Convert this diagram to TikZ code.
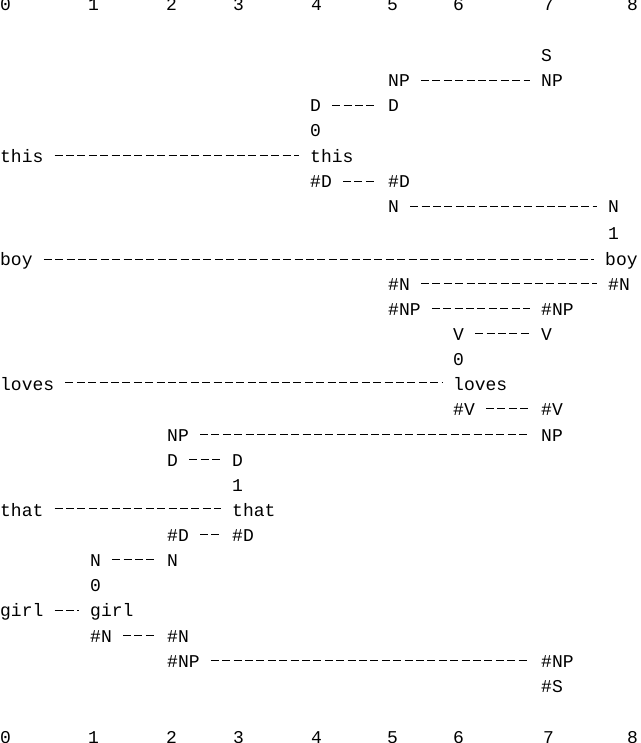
\documentclass[tikz,border=0pt]{standalone}
\usepackage{fontspec}
\setmonofont{Liberation Mono}
\begin{document}
\begin{tikzpicture}[x=1pt,y=-1pt,
  tok/.style={anchor=base west,inner sep=0pt,font=\ttfamily\fontsize{18pt}{20pt}\selectfont},
  dl/.style={draw,line width=0.8pt,dash pattern=on 8pt off 3.4pt,shorten <=11pt,shorten >=11pt}]
\useasboundingbox (0,0) rectangle (640,743);
\newcommand\T[4]{\node[tok] (#1) at (#2,#3+6) {#4};}
\newcommand\C[2]{\path[dl] ([yshift=1pt]#1.east) -- ([yshift=1pt]#2.west|-#1.east);}
% digit rows
\foreach \d/\x in {0/0,1/88,2/166,3/233,4/311,5/387,6/453,7/543,8/627}{
  \node[tok] (t\d) at (\x,11) {\d};
  \node[tok] (b\d) at (\x,743) {\d};}
\T{s}{541}{56}{S}
\T{np1}{388}{81}{NP}\T{np1b}{541}{81}{NP}\C{np1}{np1b}
\T{d1}{310}{106}{D}\T{d1b}{388}{106}{D}\C{d1}{d1b}
\T{z1}{310}{131}{0}
\T{this}{0}{157}{this}\T{thisb}{310}{157}{this}\C{this}{thisb}
\T{hd1}{310}{182}{\#D}\T{hd1b}{388}{182}{\#D}\C{hd1}{hd1b}
\T{n1}{388}{207}{N}\T{n1b}{608}{207}{N}\C{n1}{n1b}
\T{o1}{608}{233}{1}
\T{boy}{0}{259}{boy}\T{boyb}{605}{259}{boy}\C{boy}{boyb}
\T{hn1}{388}{284}{\#N}\T{hn1b}{608}{284}{\#N}\C{hn1}{hn1b}
\T{hnp1}{388}{309}{\#NP}\T{hnp1b}{541}{309}{\#NP}\C{hnp1}{hnp1b}
\T{v}{453}{334}{V}\T{vb}{541}{334}{V}\C{v}{vb}
\T{z2}{453}{359}{0}
\T{loves}{0}{384}{loves}\T{lovesb}{453}{384}{loves}\C{loves}{lovesb}
\T{hv}{453}{409}{\#V}\T{hvb}{541}{409}{\#V}\C{hv}{hvb}
\T{np2}{167}{435}{NP}\T{np2b}{541}{435}{NP}\C{np2}{np2b}
\T{d2}{167}{460}{D}\T{d2b}{232}{460}{D}\C{d2}{d2b}
\T{o2}{232}{485}{1}
\T{that}{0}{510}{that}\T{thatb}{232}{510}{that}\C{that}{thatb}
\T{hd2}{167}{535}{\#D}\T{hd2b}{232}{535}{\#D}\C{hd2}{hd2b}
\T{n2}{90}{560}{N}\T{n2b}{167}{560}{N}\C{n2}{n2b}
\T{z3}{90}{585}{0}
\T{girl}{0}{610}{girl}\T{girlb}{90}{610}{girl}\C{girl}{girlb}
\T{hn2}{90}{636}{\#N}\T{hn2b}{167}{636}{\#N}\C{hn2}{hn2b}
\T{hnp2}{167}{661}{\#NP}\T{hnp2b}{541}{661}{\#NP}\C{hnp2}{hnp2b}
\T{hs}{541}{686}{\#S}
\end{tikzpicture}
\end{document}
